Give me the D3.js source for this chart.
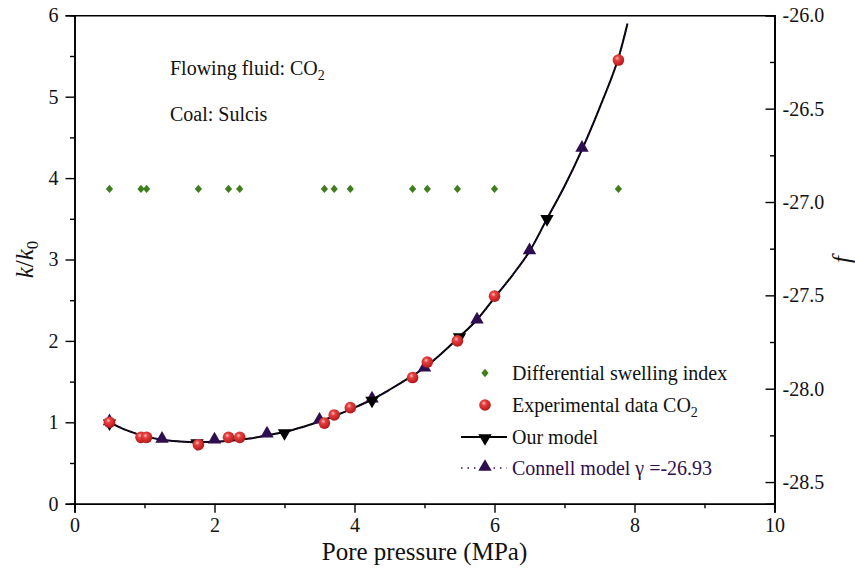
<!DOCTYPE html>
<html>
<head>
<meta charset="utf-8">
<script src="https://cdn.jsdelivr.net/npm/d3@7"></script>
</head>
<body style="margin:0">
<svg id="chart" width="855" height="577"></svg>
<script>
// ---------- data ----------
const expPressure = [0.5, 0.95, 1.03, 1.77, 2.2, 2.36, 3.57, 3.71, 3.94, 4.83, 5.04, 5.47, 6.0, 7.77];
const expK = [1.0, 0.815, 0.815, 0.725, 0.815, 0.815, 0.99, 1.09, 1.18, 1.55, 1.74, 2.0, 2.55, 5.45];
const swellingF = [-26.93, -26.93, -26.93, -26.93, -26.93, -26.93, -26.93, -26.93, -26.93, -26.93, -26.93, -26.93, -26.93, -26.93];

const ourModelP = [0.5, 1.75, 3.0, 4.25, 5.5, 6.75];
const ourModelK = [1.0, 0.755, 0.88, 1.28, 2.06, 3.51];

const connellP = [0.5, 1.25, 2.0, 2.75, 3.5, 4.25, 5.0, 5.75, 6.5, 7.25];
const connellK = [1.0, 0.785, 0.775, 0.85, 1.02, 1.28, 1.66, 2.25, 3.1, 4.36];

const curveP = [0.5, 0.75, 1.0, 1.25, 1.5, 1.75, 2.0, 2.25, 2.5, 2.75, 3.0, 3.25, 3.5, 3.75, 4.0, 4.25, 4.5, 4.75, 5.0, 5.25, 5.5, 5.75, 6.0, 6.25, 6.5, 6.75, 7.0, 7.25, 7.5, 7.75, 7.9];
const ourModelCurveK = [1.0, 0.9, 0.83, 0.785, 0.765, 0.755, 0.76, 0.775, 0.8, 0.84, 0.88, 0.94, 1.01, 1.09, 1.18, 1.28, 1.4, 1.53, 1.67, 1.85, 2.05, 2.26, 2.53, 2.8, 3.1, 3.5, 3.9, 4.35, 4.86, 5.42, 5.9];
const connellCurveK = [1.0, 0.9, 0.83, 0.785, 0.765, 0.755, 0.76, 0.775, 0.8, 0.84, 0.88, 0.94, 1.01, 1.09, 1.18, 1.28, 1.4, 1.53, 1.67, 1.85, 2.05, 2.26, 2.53, 2.8, 3.1, 3.5, 3.9, 4.35, 4.86, 5.42, 5.9];

const xTicks = [0, 2, 4, 6, 8, 10];
const xMinorTicks = [1, 3, 5, 7, 9];
const yTicks = [0, 1, 2, 3, 4, 5, 6];
const yMinorTicks = [0.5, 1.5, 2.5, 3.5, 4.5, 5.5];
const fTicks = [-26.0, -26.5, -27.0, -27.5, -28.0, -28.5];
const fMinorTicks = [-26.25, -26.75, -27.25, -27.75, -28.25];

const legendLabels = ["Differential swelling index", "Experimental data CO", "Our model", "Connell model \u03B3 =-26.93"];

// ---------- layout ----------
const FONT = "Liberation Serif";
const L = 74.5, R = 774.5, T = 15.3, B = 503.7;
const svg = d3.select("#chart");

const x = d3.scaleLinear().domain([0, 10]).range([L, R]);
const y = d3.scaleLinear().domain([0, 6]).range([B, T]);
const yF = d3.scaleLinear().domain([-28.616, -26.0]).range([B, T]);

const purple = "#2e0e50";
const green = "#3f7d1d";

const defs = svg.append("defs");
const grad = defs.append("radialGradient").attr("id", "redBall")
  .attr("cx", "40%").attr("cy", "35%").attr("r", "65%");
grad.append("stop").attr("offset", "0%").attr("stop-color", "#ffc4c4");
grad.append("stop").attr("offset", "30%").attr("stop-color", "#e8403f");
grad.append("stop").attr("offset", "100%").attr("stop-color", "#b3171a");

// ---------- axes ----------
const axisG = svg.append("g");
const tickFont = 20;

axisG.append("g").attr("transform", `translate(0,${B})`)
  .call(d3.axisBottom(x).tickValues(xTicks).tickSize(9).tickPadding(5).tickFormat(d3.format("d")));
axisG.append("g").attr("transform", `translate(0,${B})`)
  .call(d3.axisBottom(x).tickValues(xMinorTicks).tickSize(4.5).tickFormat(""));
axisG.append("g").attr("transform", `translate(0,${T})`)
  .call(d3.axisTop(x).tickValues([]).tickSizeOuter(0));
axisG.append("g").attr("transform", `translate(${L},0)`)
  .call(d3.axisLeft(y).tickValues(yTicks).tickSize(9).tickPadding(7).tickFormat(d3.format("d")));
axisG.append("g").attr("transform", `translate(${L},0)`)
  .call(d3.axisLeft(y).tickValues(yMinorTicks).tickSize(4.5).tickFormat(""));
axisG.append("g").attr("transform", `translate(${R},0)`)
  .call(d3.axisRight(yF).tickValues(fTicks).tickSize(0).tickPadding(8).tickFormat(d => d.toFixed(1)));
axisG.append("g").attr("transform", `translate(${R},0)`)
  .call(d3.axisLeft(yF).tickValues(fTicks).tickSize(9).tickFormat(""));
axisG.append("g").attr("transform", `translate(${R},0)`)
  .call(d3.axisLeft(yF).tickValues(fMinorTicks).tickSize(4.5).tickFormat(""));

axisG.selectAll("g").attr("font-family", FONT);
axisG.selectAll(".domain").attr("stroke", "#000").attr("stroke-width", 1.6);
axisG.selectAll(".tick line").attr("stroke", "#000").attr("stroke-width", 1.4);
axisG.selectAll(".tick text").attr("font-size", tickFont).attr("fill", "#111")
  .style("font-family", FONT);

// ---------- axis titles ----------
svg.append("text").attr("x", (L + R) / 2).attr("y", 560).attr("text-anchor", "middle")
  .style("font-family", FONT).attr("font-size", 25).attr("fill", "#111").text("Pore pressure (MPa)");

const kLab = svg.append("text").attr("transform", `translate(33,${(T + B) / 2}) rotate(-90)`)
  .attr("text-anchor", "middle").style("font-family", FONT).attr("font-size", 25).attr("fill", "#111");
kLab.append("tspan").attr("font-style", "italic").text("k");
kLab.append("tspan").text("/");
kLab.append("tspan").attr("font-style", "italic").text("k");
kLab.append("tspan").attr("font-size", 17).attr("dy", 5).text("0");

svg.append("text").attr("transform", `translate(850,${(T + B) / 2}) rotate(-90)`)
  .attr("text-anchor", "middle").style("font-family", FONT).attr("font-size", 25).attr("font-style", "italic")
  .attr("fill", "#111").text("f");

// ---------- annotations ----------
const ann1 = svg.append("text").attr("x", 170).attr("y", 75).style("font-family", FONT)
  .attr("font-size", 20).attr("fill", "#111");
ann1.append("tspan").text("Flowing fluid: CO");
ann1.append("tspan").attr("font-size", 14).attr("dy", 5).text("2");
svg.append("text").attr("x", 170).attr("y", 121).style("font-family", FONT)
  .attr("font-size", 20).attr("fill", "#111").text("Coal: Sulcis");

// ---------- marks ----------
const triUp = d3.symbol().type(d3.symbolTriangle).size(78);
const diamond = d3.symbol().type(d3.symbolSquare).size(26);
const diamondT = "rotate(45) scale(1,1)";

svg.append("g").selectAll("path").data(expPressure).join("path")
  .attr("d", diamond)
  .attr("transform", (d, i) => `translate(${x(d)},${yF(swellingF[i])}) scale(1,1.15) rotate(45)`)
  .attr("fill", green);

const line = d3.line().x(d => x(d[0])).y(d => y(d[1])).curve(d3.curveCatmullRom);
svg.append("path").datum(curveP.map((p, i) => [p, ourModelCurveK[i]]))
  .attr("d", line).attr("fill", "none").attr("stroke", "#000").attr("stroke-width", 2);
svg.append("path").datum(curveP.map((p, i) => [p, connellCurveK[i]]))
  .attr("d", line).attr("fill", "none").attr("stroke", purple).attr("stroke-width", 1.6)
  .attr("stroke-dasharray", "1.5,4");

svg.append("g").selectAll("path").data(connellP).join("path")
  .attr("d", triUp)
  .attr("transform", (d, i) => `translate(${x(d)},${y(connellK[i]) - 1})`)
  .attr("fill", purple);

svg.append("g").selectAll("path").data(ourModelP).join("path")
  .attr("d", triUp)
  .attr("transform", (d, i) => `translate(${x(d)},${y(ourModelK[i]) + 1}) rotate(180)`)
  .attr("fill", "#000");

svg.append("g").selectAll("circle").data(expPressure).join("circle")
  .attr("cx", d => x(d)).attr("cy", (d, i) => y(expK[i])).attr("r", 5.8)
  .attr("fill", "url(#redBall)");

// ---------- legend ----------
const lg = svg.append("g");
const lx = 485, ltx = 512;
const rows = [373, 405, 437, 468];

lg.append("path").attr("d", diamond).attr("transform", `translate(${lx},${rows[0]}) scale(1,1.15) rotate(45)`).attr("fill", green);
lg.append("text").attr("x", ltx).attr("y", rows[0] + 7).style("font-family", FONT).attr("font-size", 20).attr("fill", "#111").text(legendLabels[0]);

lg.append("circle").attr("cx", lx).attr("cy", rows[1]).attr("r", 5.8).attr("fill", "url(#redBall)");
const t2 = lg.append("text").attr("x", ltx).attr("y", rows[1] + 7).style("font-family", FONT).attr("font-size", 20).attr("fill", "#111");
t2.append("tspan").text(legendLabels[1]);
t2.append("tspan").attr("font-size", 14).attr("dy", 5).text("2");

lg.append("line").attr("x1", 461).attr("x2", 507).attr("y1", rows[2]).attr("y2", rows[2])
  .attr("stroke", "#000").attr("stroke-width", 2);
lg.append("path").attr("d", triUp).attr("transform", `translate(${lx},${rows[2] + 1}) rotate(180)`).attr("fill", "#000");
lg.append("text").attr("x", ltx).attr("y", rows[2] + 7).style("font-family", FONT).attr("font-size", 20).attr("fill", "#111").text(legendLabels[2]);

lg.append("line").attr("x1", 461).attr("x2", 507).attr("y1", rows[3]).attr("y2", rows[3])
  .attr("stroke", purple).attr("stroke-width", 1.6).attr("stroke-dasharray", "1.5,5");
lg.append("path").attr("d", triUp).attr("transform", `translate(${lx},${rows[3] - 1})`).attr("fill", purple);
lg.append("text").attr("x", ltx).attr("y", rows[3] + 7).style("font-family", FONT).attr("font-size", 20).attr("fill", purple).text(legendLabels[3]);
</script>
</body>
</html>
